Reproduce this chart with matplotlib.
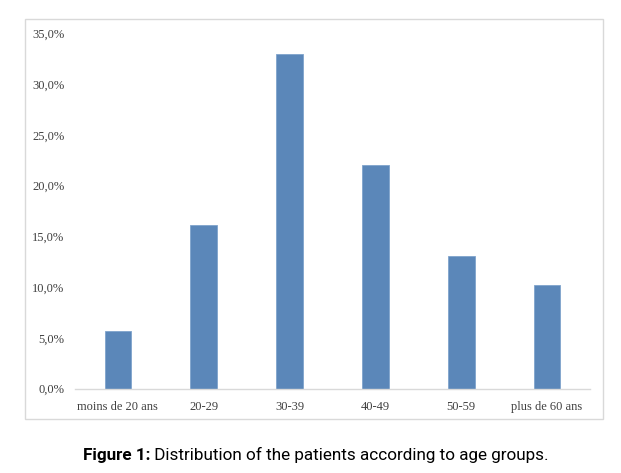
import matplotlib
matplotlib.use("Agg")
import matplotlib.pyplot as plt
from matplotlib.patches import Rectangle
from matplotlib.ticker import FuncFormatter

categories = ["moins de 20 ans", "20-29", "30-39", "40-49", "50-59", "plus de 60 ans"]
values = [5.7, 16.1, 33.0, 22.0, 13.1, 10.2]
yticks = [0, 5, 10, 15, 20, 25, 30, 35]
caption_bold = "Figure 1:"
caption_text = " Distribution of the patients according to age groups."

W, H = 621, 473
fig = plt.figure(figsize=(W / 100, H / 100), dpi=100)
fig.patch.set_facecolor("white")

# outer chart frame
fig.patches.append(Rectangle((25 / W, 1 - 419 / H), (603 - 25) / W, (419 - 19) / H,
                             transform=fig.transFigure, fill=False,
                             edgecolor="#d9d9d9", linewidth=1.0))

ax = fig.add_axes([75 / W, 1 - 388.5 / H, (590 - 75) / W, (388.5 - 33.5) / H])
x = range(len(categories))
ax.bar(x, values, width=0.31, color="#5b87b9", edgecolor="#7fa3cc", linewidth=0.6)
ax.set_xlim(-0.5, len(categories) - 0.5)
ax.set_ylim(0, 35)
ax.set_yticks(yticks)
ax.yaxis.set_major_formatter(FuncFormatter(lambda v, p: f"{v:.1f}%".replace(".", ",")))
ax.set_xticks(list(x))
ax.set_xticklabels(categories)
for s in ["top", "right", "left"]:
    ax.spines[s].set_visible(False)
ax.spines["bottom"].set_color("#d9d9d9")
ax.spines["bottom"].set_linewidth(1.0)
ax.tick_params(axis="both", length=0, colors="#595959", labelsize=9)
ax.tick_params(axis="y", pad=7.5)
ax.tick_params(axis="x", pad=9)
for lab in ax.get_xticklabels() + ax.get_yticklabels():
    lab.set_fontfamily(["Liberation Serif", "DejaVu Serif"])
    lab.set_color("#404040")

fam = ["Roboto", "DejaVu Sans"]
t1 = fig.text(83 / W, 1 - 460 / H, caption_bold, fontsize=12.3, fontweight="bold",
              family=fam, color="black", va="baseline", ha="left")
fig.canvas.draw()
ax.annotate(caption_text, xy=(1, 0), xycoords=t1, fontsize=12.3, family=fam,
            color="black", va="bottom", ha="left", annotation_clip=False)

fig.savefig("out.png", dpi=100, facecolor="white")
